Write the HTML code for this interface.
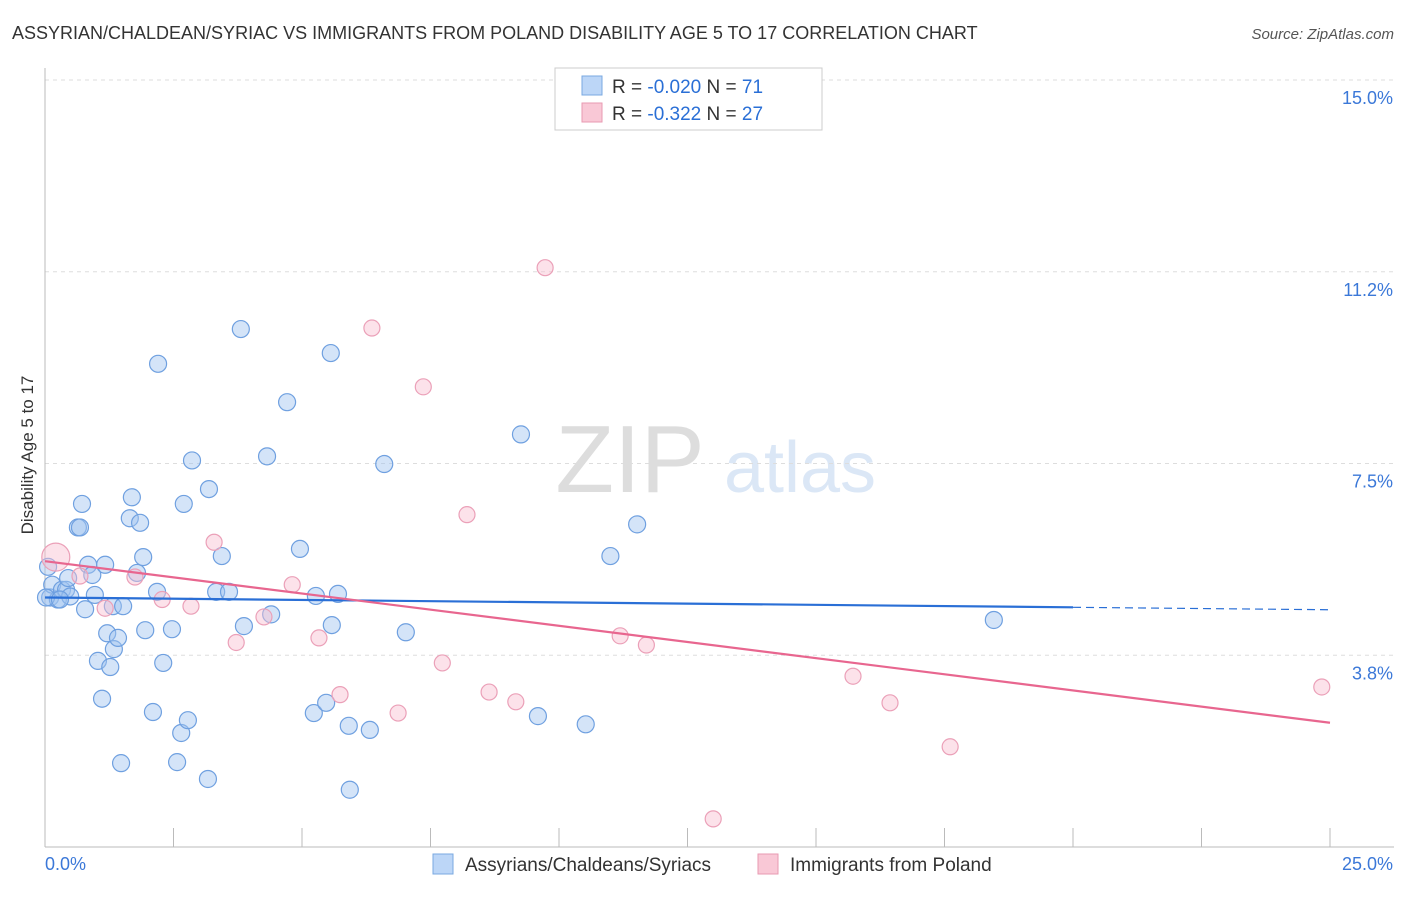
<!DOCTYPE html>
<html><head><meta charset="utf-8"><style>
body{margin:0;background:#fff;font-family:"Liberation Sans",sans-serif;}
svg text{font-family:"Liberation Sans",sans-serif;}
</style></head><body>
<svg id="chart" width="1406" height="892" xmlns="http://www.w3.org/2000/svg">
<text x="12" y="39" font-size="18" fill="#333">ASSYRIAN/CHALDEAN/SYRIAC VS IMMIGRANTS FROM POLAND DISABILITY AGE 5 TO 17 CORRELATION CHART</text>
<text x="1394" y="39" font-size="15" fill="#555" text-anchor="end" font-style="italic">Source: ZipAtlas.com</text>
<g>
<text x="630" y="492" font-size="96" fill="#ddd" font-family="Liberation Serif" text-anchor="middle">ZIP</text>
<text x="800" y="492" font-size="72" fill="#dbe7f6" text-anchor="middle">atlas</text>
</g>
<g id="grid"></g>
<g id="axes"></g>
<g id="points"></g>
<g id="lines"></g>
<text transform="translate(33,455) rotate(-90)" font-size="17" fill="#333" text-anchor="middle">Disability Age 5 to 17</text>
<g>
<rect x="555" y="68" width="267" height="62" fill="#fff" stroke="#ccc"/>
<rect x="582" y="76" width="20" height="19" fill="#bcd6f7" stroke="#7aa8e0"/>
<rect x="582" y="103" width="20" height="19" fill="#f9c8d6" stroke="#e89ab2"/>
<text x="612" y="93" font-size="19" fill="#333">R = <tspan fill="#2a6fd6">-0.020</tspan>   N = <tspan fill="#2a6fd6">71</tspan></text>
<text x="612" y="120" font-size="19" fill="#333">R =  <tspan fill="#2a6fd6">-0.322</tspan>   N = <tspan fill="#2a6fd6">27</tspan></text>
</g>
<g>
<rect x="433" y="854" width="20" height="20" fill="#bcd6f7" stroke="#7aa8e0"/>
<text x="465" y="871" font-size="19" fill="#333">Assyrians/Chaldeans/Syriacs</text>
<rect x="758" y="854" width="20" height="20" fill="#f9c8d6" stroke="#e89ab2"/>
<text x="790" y="871" font-size="19" fill="#333">Immigrants from Poland</text>
</g>
</svg>
<script>
const xTicks=[0,2.5,5,7.5,10,12.5,15,17.5,20,22.5,25];
const yTicks=[3.75,7.5,11.25,15];
const yTickLabels=["3.8%","7.5%","11.2%","15.0%"];
const blueX=[0.1,0.14,0.25,0.33,0.41,0.49,0.45,0.64,0.68,0.72,0.78,0.84,0.92,0.97,1.03,1.11,1.17,1.21,1.27,1.32,1.34,1.42,1.48,1.52,1.65,1.69,1.79,1.85,1.91,1.95,2.1,2.18,2.2,2.3,2.47,2.57,2.65,2.7,2.78,2.86,3.17,3.19,3.33,3.44,3.58,3.81,3.87,4.32,4.4,4.71,4.96,5.23,5.27,5.47,5.56,5.58,5.7,5.91,5.93,6.32,6.6,7.02,9.26,9.59,10.52,11.0,11.52,18.46,0.06,0.02,0.29];
const blueY=[4.88,5.13,4.84,5.03,5.03,4.9,5.26,6.25,6.25,6.71,4.65,5.52,5.32,4.93,3.64,2.9,5.52,4.18,3.52,4.71,3.87,4.09,1.64,4.71,6.43,6.84,5.36,6.34,5.67,4.24,2.64,4.99,9.45,3.6,4.26,1.66,2.23,6.71,2.48,7.56,1.33,7.0,4.99,5.69,4.99,10.13,4.32,7.64,4.55,8.7,5.83,2.62,4.91,2.82,9.66,4.34,4.95,2.37,1.12,2.29,7.49,4.2,8.07,2.56,2.4,5.69,6.31,4.44,5.48,4.88,4.84];
const pinkX=[0.21,0.68,1.17,1.75,2.28,2.84,3.29,3.72,4.26,4.81,5.33,5.74,6.36,6.87,7.36,7.73,8.21,8.64,9.16,9.73,11.19,11.7,13.0,15.72,16.44,17.61,24.84];
const pinkY=[5.67,5.3,4.67,5.28,4.84,4.71,5.96,4.0,4.5,5.13,4.09,2.98,10.15,2.62,9.0,3.6,6.5,3.03,2.84,11.33,4.13,3.95,0.55,3.34,2.82,1.96,3.13];
const pinkR=[14,8,8,8,8,8,8,8,8,8,8,8,8,8,8,8,8,8,8,8,8,8,8,8,8,8,8];
const blueTrend=[4.88,4.64]; // at x=0, x=25
const pinkTrend=[5.59,2.43];
const blueSolidEnd=20;
const X=v=>45+v/25*1285, Y=v=>847-v*51.13;
const NS="http://www.w3.org/2000/svg";
function mk(tag,attrs,parent){const e=document.createElementNS(NS,tag);for(const k in attrs)e.setAttribute(k,attrs[k]);parent.appendChild(e);return e;}
const grid=document.getElementById('grid'),axes=document.getElementById('axes'),pts=document.getElementById('points'),lines=document.getElementById('lines');
yTicks.forEach((t,i)=>{
 const l=mk('line',{x1:45,x2:1394,y1:Y(t),y2:Y(t),stroke:'#ddd','stroke-dasharray':'4,4'},grid);
 
 
 const tx=mk('text',{x:1393,y:Y(t)+24,'font-size':18,fill:'#3b78d8','text-anchor':'end'},axes);
 tx.textContent=yTickLabels[i];
 
 
});
const ax=mk('line',{x1:45,x2:1394,y1:847,y2:847,stroke:'#bbb'},axes);


const ay=mk('line',{x1:45,x2:45,y1:68,y2:847,stroke:'#bbb'},axes);


xTicks.forEach(t=>{
 const l=mk('line',{x1:X(t),x2:X(t),y1:828,y2:847,stroke:'#bbb'},axes);
 
 
});
const xl0=mk('text',{x:45,y:870,'font-size':18,fill:'#3b78d8'},axes);xl0.textContent='0.0%';


const xl1=mk('text',{x:1393,y:870,'font-size':18,fill:'#3b78d8','text-anchor':'end'},axes);xl1.textContent='25.0%';


blueX.forEach((x,i)=>{
 const c=mk('circle',{cx:X(x),cy:Y(blueY[i]),r:8.5,fill:'rgba(160,196,240,0.45)',stroke:'#6fa0e0','stroke-width':1.2},pts);
 
 
});
pinkX.forEach((x,i)=>{
 const c=mk('circle',{cx:X(x),cy:Y(pinkY[i]),r:pinkR[i],fill:'rgba(248,190,208,0.45)',stroke:'#eba0b8','stroke-width':1.2},pts);
 
 
});
const bAt=x=>blueTrend[0]+(blueTrend[1]-blueTrend[0])*x/25;
const b1=mk('line',{x1:X(0),y1:Y(bAt(0)),x2:X(blueSolidEnd),y2:Y(bAt(blueSolidEnd)),stroke:'#2a6fd6','stroke-width':2.2},lines);


const b2=mk('line',{x1:X(blueSolidEnd),y1:Y(bAt(blueSolidEnd)),x2:X(25),y2:Y(bAt(25)),stroke:'#2a6fd6','stroke-width':1.2,'stroke-dasharray':'8,5'},lines);


const p1=mk('line',{x1:X(0),y1:Y(pinkTrend[0]),x2:X(25),y2:Y(pinkTrend[1]),stroke:'#e8668f','stroke-width':2.2},lines);


</script>
</body></html>
